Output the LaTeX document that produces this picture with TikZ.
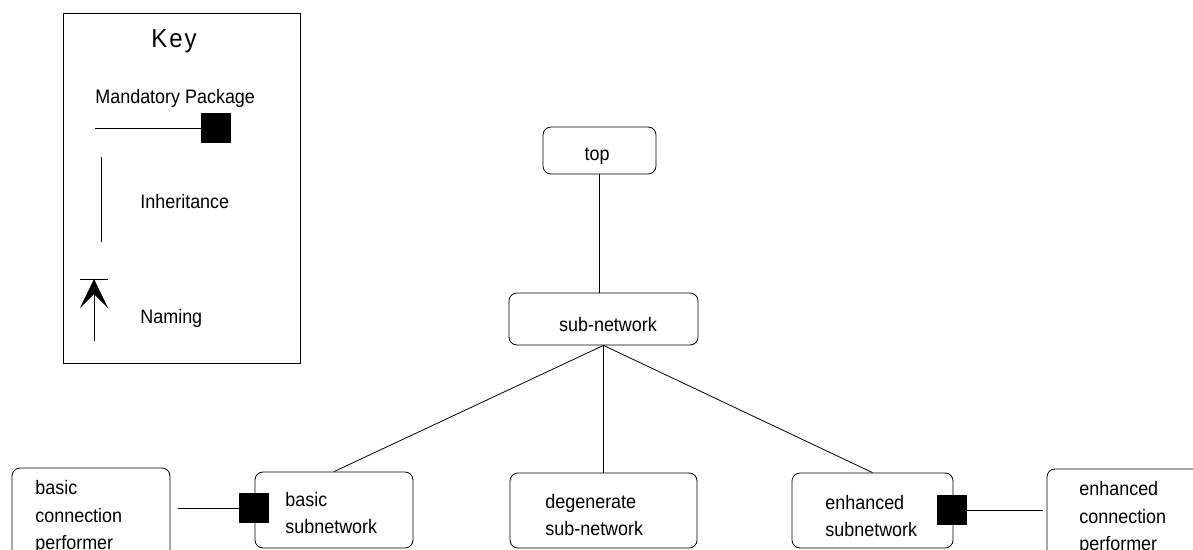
\documentclass[tikz,border=0pt]{standalone}
\usepackage{fontspec}
\setmainfont{Liberation Sans}
\usetikzlibrary{arrows.meta,calc}
\begin{document}
\begin{tikzpicture}[x=1pt,y=-1pt, line width=0.8pt,
  box/.style={draw, rounded corners=8pt, inner sep=0pt},
  sq/.style={fill=black, minimum size=30pt, inner sep=0pt},
  txtfont/.style={font=\fontsize{19.5}{21}\selectfont\addfontfeatures{FakeStretch=0.92}},
  lbl/.style={anchor=base west, inner sep=0pt, txtfont},
  lblc/.style={anchor=base, inner sep=0pt, txtfont}]
\useasboundingbox (0,0) rectangle (1193,549);
\clip (0,0) rectangle (1193,549);
% key
\node[draw, minimum width=237pt, minimum height=350pt, inner sep=0pt, anchor=north west] (key) at (63,13) {};
\node[anchor=base, inner sep=0pt, font=\fontsize{26}{28}\selectfont\addfontfeatures{LetterSpace=8,FakeStretch=0.92}] (keyt) at (174,47) {Key};
\node[lbl] (mpt) at (95,103) {Mandatory Package};
\coordinate (mpA) at (95,128);
\node[sq] (mpS) at (216,128) {};
\draw (mpA) -- (mpA -| mpS.west);
\coordinate (inA) at (101,157);
\coordinate (inB) at (101,242);
\draw (inA) -- (inB);
\node[lbl] (int) at (140,208) {Inheritance};
\coordinate (nmA) at (94,341);
\coordinate (nmB) at (94,279);
\coordinate (barL) at (80,279);
\coordinate (barR) at (108,279);
\draw (barL) -- (barR);
\draw[-{Stealth[length=29pt,width=28pt,inset=14pt]}] (nmA) -- (nmB);
\node[lbl] (nmt) at (140,323) {Naming};
% boxes
\node[box, minimum width=113pt, minimum height=47pt] (top) at (599.5,150.5) {};
\node[box, minimum width=189pt, minimum height=52pt] (sub) at (603.5,319) {};
\node[box, minimum width=158pt, minimum height=76pt] (basic) at (334,510) {};
\node[box, minimum width=187pt, minimum height=75pt] (deg) at (603.5,510.5) {};
\node[box, minimum width=161pt, minimum height=75pt] (enh) at (872.5,510.5) {};
\node[box, minimum width=158pt, minimum height=110pt] (bcp) at (91,523) {};
\node[box, minimum width=173pt, minimum height=110pt] (ecp) at (1133.5,524) {};
% texts
\node[lblc] (topt) at (597,160) {top};
\node[lblc] (subt) at (608,331) {sub-network};
\node[lbl] (b1) at (285,506) {basic};
\node[lbl] (b2) at (285,533) {subnetwork};
\node[lbl] (d1) at (545,508) {degenerate};
\node[lbl] (d2) at (545,535) {sub-network};
\node[lbl] (e1) at (825,509) {enhanced};
\node[lbl] (e2) at (825,536) {subnetwork};
\node[lbl] (c1) at (35,494) {basic};
\node[lbl] (c2) at (35,522) {connection};
\node[lbl] (c3) at (35,549) {performer};
\node[lbl] (f1) at (1079,495) {enhanced};
\node[lbl] (f2) at (1079,523) {connection};
\node[lbl] (f3) at (1079,550) {performer};
% markers
\node[sq] (msqb) at (254,508) {};
\node[sq] (msqe) at (951.5,510) {};
% connectors
\draw (top.south) -- (top.south |- sub.north);
\draw (sub.south) -- (basic.north);
\draw (sub.south) -- (deg.north);
\draw (sub.south) -- (enh.north);
\draw[shorten <=8pt] (bcp.east |- msqb) -- (msqb.west);
\draw[shorten >=4pt] (msqe.east) -- (msqe -| ecp.west);
\end{tikzpicture}
\end{document}
